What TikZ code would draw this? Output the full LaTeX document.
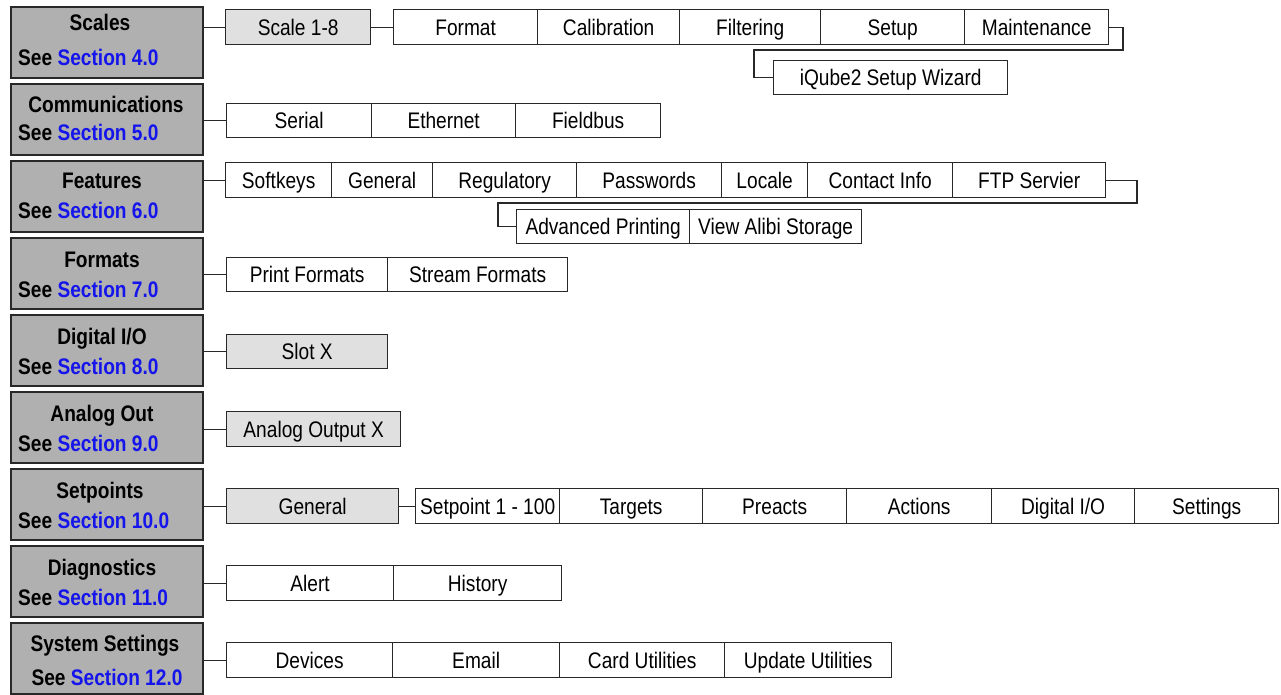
\documentclass[tikz,border=0pt]{standalone}
\usepackage{fontspec}
\setmainfont{Liberation Sans}[FakeStretch=0.85]
\definecolor{hdrgray}{RGB}{176,176,176}
\definecolor{subgray}{RGB}{224,224,224}
\definecolor{edge}{RGB}{40,40,40}
\definecolor{seclink}{RGB}{20,20,235}
\newcommand\mkcell[7]{%
  \node[#1, anchor=north west, minimum width={#4pt-#3pt}, minimum height={#6pt-#5pt}] (#2) at (#3,#5) {#7};}
\newcommand\sect[1]{\textbf{See \textcolor{seclink}{Section #1}}}
\begin{document}
\begin{tikzpicture}[x=1pt,y=-1pt,
  font=\fontsize{22.5}{26}\selectfont,
  every node/.style={text height=16pt, text depth=0pt},
  hdr/.style={draw=edge, line width=1.6pt, fill=hdrgray, inner sep=0pt},
  cellbox/.style={draw=edge, line width=1.3pt, fill=white, inner sep=0pt},
  subbox/.style={cellbox, fill=subgray},
  title/.style={inner sep=0pt, font=\fontsize{22.5}{26}\selectfont\bfseries},
  seeline/.style={inner sep=0pt, anchor=west},
  conn/.style={draw=edge, line width=1.3pt}]
\useasboundingbox (0,0) rectangle (1281,694);

% ---------- left header boxes ----------
\foreach \i/\nm in {0/hScales,1/hComm,2/hFeat,3/hForm,4/hDig,5/hAna,6/hSet,7/hDiag,8/hSys}{
  \node[hdr, anchor=north west, minimum width=192pt, minimum height=71pt] (\nm) at (10,{6+77*\i}) {};
}
\node[title] (tScales) at (100,22) {Scales};
\node[seeline] (sScales) at (18,57) {\sect{4.0}};
\node[title] (tComm) at (106,104) {Communications};
\node[seeline] (sComm) at (18,132) {\sect{5.0}};
\node[title] (tFeat) at (102,180) {Features};
\node[seeline] (sFeat) at (18,210) {\sect{6.0}};
\node[title] (tForm) at (102,259) {Formats};
\node[seeline] (sForm) at (18,289) {\sect{7.0}};
\node[title] (tDig) at (102,336) {Digital I/O};
\node[seeline] (sDig) at (18,366) {\sect{8.0}};
\node[title] (tAna) at (102,413) {Analog Out};
\node[seeline] (sAna) at (18,443) {\sect{9.0}};
\node[title] (tSet) at (100,490) {Setpoints};
\node[seeline] (sSet) at (18,520) {\sect{10.0}};
\node[title] (tDiag) at (102,567) {Diagnostics};
\node[seeline] (sDiag) at (18,597) {\sect{11.0}};
\node[title] (tSys) at (105,643) {System Settings};
\node[inner sep=0pt] (sSys) at (107,677) {\sect{12.0}};

% ---------- Scales ----------
\mkcell{subbox}{scl}{225}{370}{9}{44}{Scale 1-8}
\mkcell{cellbox}{fmt}{393}{537}{9}{44}{Format}
\mkcell{cellbox}{cal}{537}{679}{9}{44}{Calibration}
\mkcell{cellbox}{filt}{679}{820}{9}{44}{Filtering}
\mkcell{cellbox}{setup}{820}{964}{9}{44}{Setup}
\mkcell{cellbox}{maint}{964}{1108}{9}{44}{Maintenance}
\mkcell{cellbox}{wiz}{773}{1007}{60}{94}{iQube2 Setup Wizard}
\draw[conn] (hScales.east |- scl.west) -- (scl.west);
\draw[conn] (scl.east) -- (fmt.west);
\coordinate (m1) at (1123,50);
\coordinate (m2) at (754,50);
\draw[conn] (maint.east) -| (m1) -- (m2) |- (wiz.west);

% ---------- Communications ----------
\mkcell{cellbox}{ser}{226}{371}{103}{137}{Serial}
\mkcell{cellbox}{eth}{371}{515}{103}{137}{Ethernet}
\mkcell{cellbox}{fbus}{515}{660}{103}{137}{Fieldbus}
\draw[conn] (hComm.east |- ser.west) -- (ser.west);

% ---------- Features ----------
\mkcell{cellbox}{soft}{225}{331}{162}{197}{Softkeys}
\mkcell{cellbox}{fgen}{331}{432}{162}{197}{General}
\mkcell{cellbox}{reg}{432}{576}{162}{197}{Regulatory}
\mkcell{cellbox}{pwd}{576}{721}{162}{197}{Passwords}
\mkcell{cellbox}{loc}{721}{807}{162}{197}{Locale}
\mkcell{cellbox}{cinfo}{807}{952}{162}{197}{Contact Info}
\mkcell{cellbox}{ftp}{952}{1105}{162}{197}{FTP Servier}
\mkcell{cellbox}{adv}{516}{689}{209}{243}{Advanced Printing}
\mkcell{cellbox}{alibi}{689}{861}{209}{243}{View Alibi Storage}
\draw[conn] (hFeat.east |- soft.west) -- (soft.west);
\coordinate (f1) at (1137,203);
\coordinate (f2) at (498,203);
\draw[conn] (ftp.east) -| (f1) -- (f2) |- (adv.west);

% ---------- Formats ----------
\mkcell{cellbox}{pfmt}{226}{387}{257}{291}{Print Formats}
\mkcell{cellbox}{sfmt}{387}{567}{257}{291}{Stream Formats}
\draw[conn] (hForm.east |- pfmt.west) -- (pfmt.west);

% ---------- Digital I/O ----------
\mkcell{subbox}{slot}{226}{387}{334}{368}{Slot X}
\draw[conn] (hDig.east |- slot.west) -- (slot.west);

% ---------- Analog Out ----------
\mkcell{subbox}{aout}{226}{400}{411}{446}{Analog Output X}
\draw[conn] (hAna.east |- aout.west) -- (aout.west);

% ---------- Setpoints ----------
\mkcell{subbox}{sgen}{226}{398}{488}{523}{General}
\mkcell{cellbox}{sp}{415}{559}{488}{523}{Setpoint 1 - 100}
\mkcell{cellbox}{tgt}{559}{702}{488}{523}{Targets}
\mkcell{cellbox}{pre}{702}{846}{488}{523}{Preacts}
\mkcell{cellbox}{act}{846}{991}{488}{523}{Actions}
\mkcell{cellbox}{dio}{991}{1134}{488}{523}{Digital I/O}
\mkcell{cellbox}{sett}{1134}{1278}{488}{523}{Settings}
\draw[conn] (hSet.east |- sgen.west) -- (sgen.west);
\draw[conn] (sgen.east) -- (sp.west);

% ---------- Diagnostics ----------
\mkcell{cellbox}{alert}{226}{393}{565}{600}{Alert}
\mkcell{cellbox}{hist}{393}{561}{565}{600}{History}
\draw[conn] (hDiag.east |- alert.west) -- (alert.west);

% ---------- System Settings ----------
\mkcell{cellbox}{dev}{226}{392}{642}{677}{Devices}
\mkcell{cellbox}{mail}{392}{559}{642}{677}{Email}
\mkcell{cellbox}{card}{559}{724}{642}{677}{Card Utilities}
\mkcell{cellbox}{upd}{724}{891}{642}{677}{Update Utilities}
\draw[conn] (hSys.east |- dev.west) -- (dev.west);
\end{tikzpicture}
\end{document}
